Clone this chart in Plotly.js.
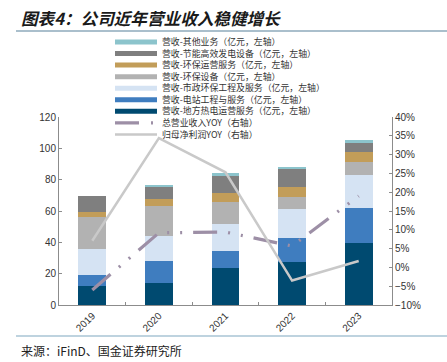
<!DOCTYPE html>
<html>
<head>
<meta charset="utf-8">
<script src="https://cdn.plot.ly/plotly-3.0.1.min.js"></script>
<style>html,body{margin:0;padding:0;background:#fff;}#chart{width:447px;height:362px;}</style>
</head>
<body>
<div id="chart"></div>
<script>
// ---- data ----
const years = ['2019', '2020', '2021', '2022', '2023'];
const revHeat      = [12.4, 14.1, 23.9, 27.5, 39.5]; // 地方热电运营服务
const revStation   = [7.0, 14.3, 10.4, 15.4, 22.4];  // 电站工程与服务
const revMunicipal = [16.2, 15.8, 17.5, 18.5, 20.9]; // 市政环保工程及服务
const revEnvEquip  = [20.7, 18.7, 13.7, 7.5, 8.7];   // 环保设备
const revEnvOps    = [3.2, 4.9, 6.2, 6.6, 6.0];      // 环保运营服务
const revEnergy    = [9.8, 7.3, 10.9, 11.5, 5.8];    // 节能高效发电设备
const revOther     = [0.3, 1.5, 1.5, 1.3, 2.1];      // 其他业务
const yoyRevenue   = [-6.0, 9.2, 9.4, 5.7, 19.0];    // 总营业收入YOY %
const yoyProfit    = [7.1, 34.4, 25.3, -3.5, 1.7];   // 归母净利润YOY %

const barNames = [
  '营收-地方热电运营服务（亿元，左轴）',
  '营收-电站工程与服务（亿元，左轴）',
  '营收-市政环保工程及服务（亿元，左轴）',
  '营收-环保设备（亿元，左轴）',
  '营收-环保运营服务（亿元，左轴）',
  '营收-节能高效发电设备（亿元，左轴）',
  '营收-其他业务（亿元，左轴）'
];
const lineNames = ['总营业收入YOY（右轴）', '归母净利润YOY（右轴）'];
const titleText = '图表4：公司近年营业收入稳健增长';
const sourceText = '来源：iFinD、国金证券研究所';

// ---- styles ----
const barSeries = [revHeat, revStation, revMunicipal, revEnvEquip, revEnvOps, revEnergy, revOther];
const barColors = ['#004a70', '#3f7dbf', '#d5e3f3', '#b2b2b2', '#c29d59', '#7f7f7f', '#8cc4cc'];
const revDash = '24px,11px,2px,11px,2px,11px';
const revColor = '#9d8fa6';
const profitColor = '#c9c9c9';
const cjk = '"Noto Sans CJK SC", "Liberation Sans", sans-serif';
const latin = '"Liberation Sans", Arial, sans-serif';

const traces = [];
barSeries.forEach((vals, i) => {
  traces.push({
    type: 'bar', x: years, y: vals, name: barNames[i],
    marker: {color: barColors[i], line: {width: 0}},
    showlegend: false, hoverinfo: 'skip'
  });
});
traces.push({
  type: 'scatter', mode: 'lines', x: years, y: yoyRevenue, yaxis: 'y2', name: lineNames[0],
  line: {color: revColor, width: 3.2, dash: revDash}, showlegend: false
});
traces.push({
  type: 'scatter', mode: 'lines', x: years, y: yoyProfit, yaxis: 'y2', name: lineNames[1],
  line: {color: profitColor, width: 2.5}, showlegend: false
});

// ---- pixel helpers for layout decorations ----
const W = 447, H = 362;
const M = {l: 59, r: 55, t: 117, b: 57};
const PW = W - M.l - M.r, PH = H - M.t - M.b;
const px2x = px => (px - M.l) / PW;
const py2y = py => (M.t + PH - py) / PH;

const shapes = [];
const annotations = [];

// title and rules
annotations.push({
  xref: 'paper', yref: 'paper', x: px2x(19), y: py2y(18), xanchor: 'left', yanchor: 'middle',
  text: '<b><i>' + titleText + '</i></b>', showarrow: false,
  font: {family: cjk, size: 16.6, color: '#1a1a1a'}
});
shapes.push({type: 'line', xref: 'paper', yref: 'paper', x0: px2x(16), x1: px2x(447), y0: py2y(31), y1: py2y(31),
  line: {color: '#8eaabb', width: 1.5}});
shapes.push({type: 'line', xref: 'paper', yref: 'paper', x0: px2x(16), x1: px2x(447), y0: py2y(336), y1: py2y(336),
  line: {color: '#a9c4d4', width: 1.5}});
annotations.push({
  xref: 'paper', yref: 'paper', x: px2x(19), y: py2y(350), xanchor: 'left', yanchor: 'middle',
  text: sourceText, showarrow: false, font: {family: cjk, size: 12, color: '#222'}
});

// manual legend (top to bottom: reversed bar order, then lines)
const legendItems = [];
for (let i = barNames.length - 1; i >= 0; i--) legendItems.push({kind: 'bar', name: barNames[i], color: barColors[i]});
legendItems.push({kind: 'dash', name: lineNames[0]});
legendItems.push({kind: 'line', name: lineNames[1]});
const sx0 = 115, sx1 = 157, tx = 161, ry0 = 42, rdy = 11.55;
legendItems.forEach((it, k) => {
  const cy = ry0 + k * rdy;
  if (it.kind === 'bar') {
    shapes.push({type: 'rect', xref: 'paper', yref: 'paper', x0: px2x(sx0), x1: px2x(sx1),
      y0: py2y(cy + 2.5), y1: py2y(cy - 2.5), fillcolor: it.color, line: {width: 0}});
  } else if (it.kind === 'dash') {
    shapes.push({type: 'line', xref: 'paper', yref: 'paper', x0: px2x(sx0), x1: px2x(sx1),
      y0: py2y(cy), y1: py2y(cy), line: {color: revColor, width: 3.2, dash: '24px,12px,2px,20px'}});
  } else {
    shapes.push({type: 'line', xref: 'paper', yref: 'paper', x0: px2x(sx0), x1: px2x(sx1),
      y0: py2y(cy), y1: py2y(cy), line: {color: profitColor, width: 2.5}});
  }
});
// legend texts as one multi-line block (line spacing 1.3em)
const legendFont = 8.9;
annotations.push({
  xref: 'paper', yref: 'paper', x: px2x(tx), xanchor: 'left', align: 'left',
  y: py2y(ry0 + (legendItems.length - 1) * rdy / 2), yanchor: 'middle', borderpad: 0,
  text: legendItems.map(it => it.name).join('<br>'), showarrow: false,
  font: {family: cjk, size: legendFont, color: '#333'}
});

const axisCommon = {
  showline: true, linecolor: '#8c8c8c', linewidth: 1, ticks: 'inside', ticklen: 3, tickcolor: '#8c8c8c',
  showgrid: false, zeroline: false, tickfont: {family: latin, size: 10, color: '#333'}
};

const layout = {
  width: W, height: H, margin: M,
  paper_bgcolor: '#fff', plot_bgcolor: '#fff',
  barmode: 'stack', bargap: 0.58,
  showlegend: false,
  xaxis: Object.assign({}, axisCommon, {type: 'category', tickson: 'boundaries', tickangle: -45}),
  yaxis: Object.assign({}, axisCommon, {range: [0, 120], dtick: 20, tick0: 0}),
  yaxis2: Object.assign({}, axisCommon, {overlaying: 'y', side: 'right', range: [-10, 40], dtick: 5, tick0: 0, ticksuffix: '%'}),
  shapes: shapes,
  annotations: annotations
};

Plotly.newPlot('chart', traces, layout, {displayModeBar: false, staticPlot: true});
</script>
</body>
</html>
